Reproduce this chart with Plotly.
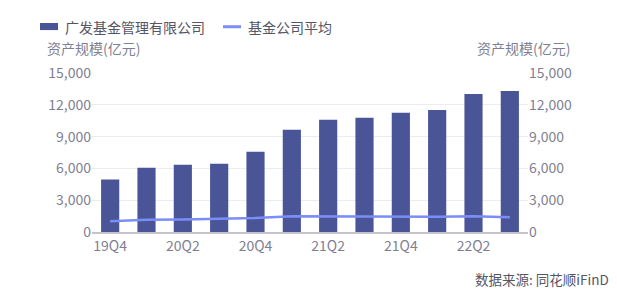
import plotly.graph_objects as go

quarters = ["19Q4", "20Q1", "20Q2", "20Q3", "20Q4", "21Q1", "21Q2", "21Q3", "21Q4", "22Q1", "22Q2", "22Q3"]
gf_assets = [4950, 6050, 6350, 6440, 7570, 9640, 10580, 10770, 11240, 11520, 13020, 13300]
industry_avg = [1010, 1150, 1180, 1250, 1330, 1490, 1480, 1440, 1440, 1430, 1490, 1400]
tick_vals = [0, 3000, 6000, 9000, 12000, 15000]
tick_text = ["0", "3,000", "6,000", "9,000", "12,000", "15,000"]
x_ticks = ["19Q4", "20Q2", "20Q4", "21Q2", "21Q4", "22Q2"]
series_names = ["广发基金管理有限公司", "基金公司平均"]

FONT = "Noto Sans CJK SC, Microsoft YaHei, sans-serif"
TXT = "#7f7f93"
BAR_C = "#4a5598"
LINE_C = "#7b8df7"

fig = go.Figure()
fig.add_trace(go.Bar(x=quarters, y=gf_assets, name=series_names[0],
                     marker=dict(color=BAR_C, line=dict(width=0))))
fig.add_trace(go.Scatter(x=quarters, y=industry_avg, name=series_names[1], mode="lines",
                         line=dict(color=LINE_C, width=2.5), yaxis="y2"))

axis_common = dict(range=[0, 15000], tickvals=tick_vals, ticktext=tick_text,
                   tickfont=dict(family=FONT, size=14, color=TXT), zeroline=False)

leg_y = 1.291
shapes = [
    dict(type="rect", xref="paper", yref="paper", x0=-0.1193, x1=-0.078, y0=1.270, y1=1.3145,
         fillcolor=BAR_C, line=dict(width=0)),
    dict(type="line", xref="paper", yref="paper", x0=0.3005, x1=0.3417, y0=leg_y, y1=leg_y,
         line=dict(color=LINE_C, width=3)),
]
fig.update_layout(
    width=617, height=295,
    margin=dict(l=92, r=89, t=73, b=63),
    paper_bgcolor="white", plot_bgcolor="white",
    bargap=0.5,
    showlegend=False,
    xaxis=dict(tickmode="array", tickvals=x_ticks, ticktext=x_ticks,
               tickfont=dict(family=FONT, size=14, color=TXT),
               showline=True, linecolor="#c4c4cc", linewidth=2, ticks="",
               showgrid=False, range=[-0.5, 11.5]),
    yaxis=dict(**axis_common, showgrid=True, gridcolor="#ebebf2", gridwidth=1, side="left",
               ticks="", ticklen=0),
    yaxis2=dict(**axis_common, overlaying="y", side="right", showgrid=False),
    shapes=shapes,
    annotations=[
        dict(text=series_names[0], xref="paper", yref="paper", x=-0.0665, y=leg_y,
             xanchor="left", yanchor="middle", showarrow=False,
             font=dict(family=FONT, size=14, color="#555566")),
        dict(text=series_names[1], xref="paper", yref="paper", x=0.3532, y=leg_y,
             xanchor="left", yanchor="middle", showarrow=False,
             font=dict(family=FONT, size=14, color="#555566")),
        dict(text="资产规模(亿元)", xref="paper", yref="paper", x=-0.108, y=1.08,
             xanchor="left", yanchor="bottom", showarrow=False,
             font=dict(family=FONT, size=14, color=TXT)),
        dict(text="资产规模(亿元)", xref="paper", yref="paper", x=1.1, y=1.08,
             xanchor="right", yanchor="bottom", showarrow=False,
             font=dict(family=FONT, size=14, color=TXT)),
        dict(text="数据来源: 同花顺iFinD", xref="paper", yref="paper", x=1.19, y=-0.37,
             xanchor="right", yanchor="bottom", showarrow=False,
             font=dict(family=FONT, size=13.5, color="#555566")),
    ],
)
fig.write_html("out.html")
